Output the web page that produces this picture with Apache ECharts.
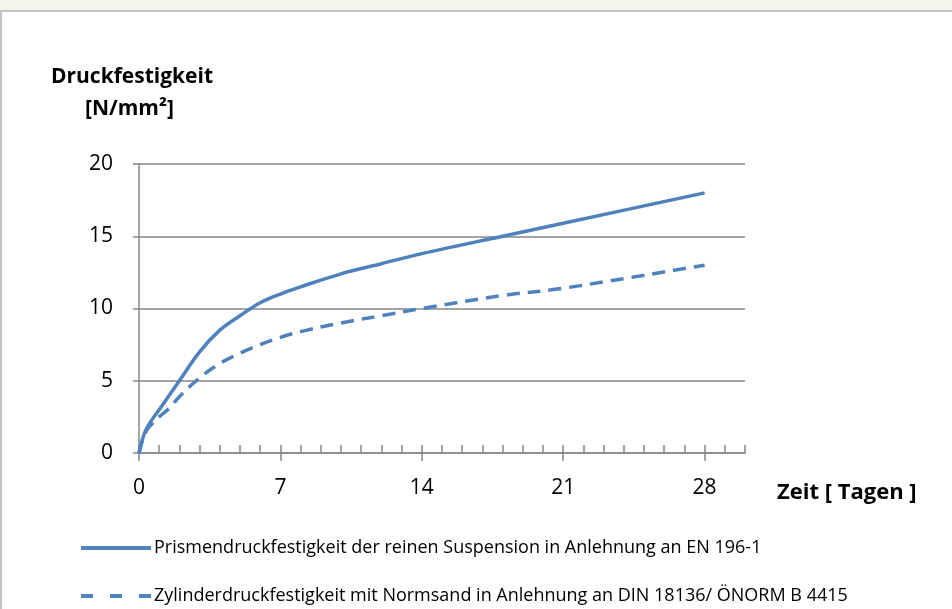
<!DOCTYPE html>
<html>
<head>
<meta charset="utf-8">
<script src="https://cdn.jsdelivr.net/npm/echarts@6/dist/echarts.min.js"></script>
<style>
    html, body { margin: 0; padding: 0; background: #fff; }
    #chart { width: 952px; height: 609px; }
</style>
</head>
<body>
<div id="chart"></div>
<script>
// Zeit in Tagen
const days = [0, 0.25, 0.5, 1, 1.5, 2, 3, 4, 5, 6, 7, 8, 10, 12, 14, 18, 21, 28]
// Prismendruckfestigkeit [N/mm²]
const prisma = [0, 1.3, 2.0, 3.0, 4.0, 5.0, 7.0, 8.5, 9.5, 10.4, 11.0, 11.5, 12.4, 13.1, 13.8, 15.0, 15.9, 18.0]
// Zylinderdruckfestigkeit [N/mm²]
const zylinder = [0, 1.2, 1.8, 2.5, 3.1, 3.9, 5.2, 6.2, 6.9, 7.5, 8.0, 8.4, 9.0, 9.5, 10.0, 10.9, 11.4, 13.0]
const xTicks = [0, 7, 14, 21, 28]
const seriesNames = [
    'Prismendruckfestigkeit der reinen Suspension in Anlehnung an EN 196-1',
    'Zylinderdruckfestigkeit mit Normsand in Anlehnung an DIN 18136/ ÖNORM B 4415'
]

const font = '"Open Sans", "Noto Sans", sans-serif'
const gridColor = '#868686'
const lineBlue = '#4f81bd'

const chart = echarts.init(document.getElementById('chart'))

const toPairs = (xs, ys) => xs.map((x, i) => [x, ys[i]])

// eine Legende pro Zeile
const makeLegend = (name, top, lineType) => ({
    orient: 'vertical',
    left: 79,
    top: top,
    padding: 0,
    itemWidth: 70,
    itemHeight: 14,
    itemGap: 0,
    itemStyle: { opacity: 0 },
    lineStyle: { width: 4, type: lineType },
    textStyle: { fontSize: 18, color: '#000', fontFamily: font, padding: [0, 0, 0, -2] },
    data: [name]
})

chart.setOption({
    animation: false,
    textStyle: { fontFamily: font },
    grid: { left: 139, top: 164, width: 606, height: 289, containLabel: false },
    graphic: [
        // Rahmen oben / links
        { type: 'rect', shape: { x: 0, y: 0, width: 952, height: 10 }, style: { fill: '#f2f5e9' }, silent: true },
        { type: 'rect', shape: { x: 0, y: 10, width: 952, height: 2 }, style: { fill: '#c3c3c3' }, silent: true },
        { type: 'rect', shape: { x: 0, y: 10, width: 2, height: 599 }, style: { fill: '#c3c3c3' }, silent: true },
        {
            type: 'text', x: 213, y: 67,
            style: { text: 'Druckfestigkeit', font: 'bold 21px ' + font, fill: '#000', align: 'right', verticalAlign: 'top' }
        },
        {
            type: 'text', x: 85, y: 99,
            style: { text: '[N/mm²]', font: 'bold 21px ' + font, fill: '#000', align: 'left', verticalAlign: 'top' }
        },
        {
            type: 'text', x: 777, y: 482,
            style: { text: 'Zeit [ Tagen ]', font: 'bold 22px ' + font, fill: '#000', align: 'left', verticalAlign: 'top' }
        }
    ],
    legend: [
        makeLegend(seriesNames[0], 539, 'solid'),
        makeLegend(seriesNames[1], 587, [12, 17])
    ],
    xAxis: [
        {
            type: 'value',
            min: 0,
            max: 30,
            interval: 7,
            splitLine: { show: false },
            axisLine: { lineStyle: { color: gridColor, width: 1.5 } },
            axisTick: {
                show: true,
                length: 8,
                lineStyle: { color: gridColor, width: 1.5 },
                customValues: xTicks
            },
            axisLabel: {
                color: '#000',
                fontSize: 21,
                margin: 25,
                customValues: xTicks
            }
        },
        {
            type: 'value',
            min: 0,
            max: 30,
            interval: 1,
            position: 'bottom',
            splitLine: { show: false },
            axisLine: { show: false },
            axisTick: { show: true, inside: true, length: 8, lineStyle: { color: gridColor, width: 1.5 } },
            axisLabel: { show: false }
        }
    ],
    yAxis: {
        type: 'value',
        min: 0,
        max: 20,
        interval: 5,
        axisLine: { show: true, lineStyle: { color: gridColor, width: 1.5 } },
        axisTick: { show: true, length: 6, lineStyle: { color: gridColor, width: 1.5 } },
        splitLine: { lineStyle: { color: gridColor, width: 1.5 } },
        axisLabel: { color: '#000', fontSize: 21, margin: 26 }
    },
    series: [
        {
            name: seriesNames[0],
            type: 'line',
            data: toPairs(days, prisma),
            smooth: 0.35,
            symbol: 'none',
            lineStyle: { color: lineBlue, width: 3.5 },
            itemStyle: { color: lineBlue },
            z: 3
        },
        {
            name: seriesNames[1],
            type: 'line',
            data: toPairs(days, zylinder),
            smooth: 0.35,
            symbol: 'none',
            lineStyle: { color: lineBlue, width: 3.5, type: [13, 8] },
            itemStyle: { color: lineBlue },
            z: 2
        }
    ]
})
</script>
</body>
</html>
